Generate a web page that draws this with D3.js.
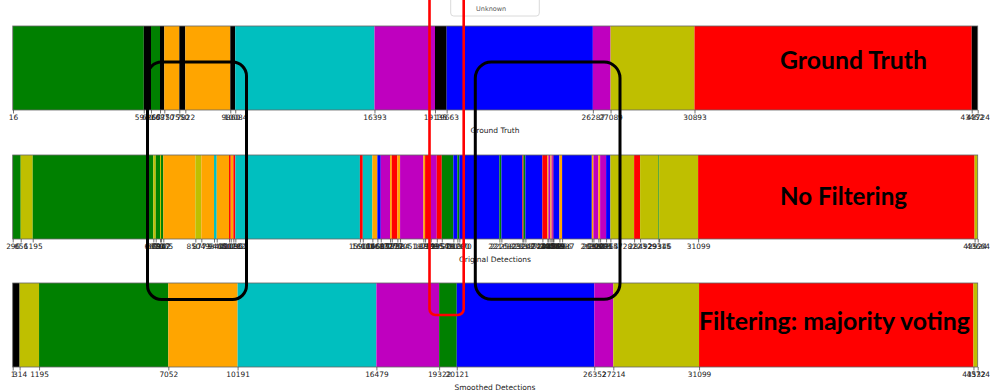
<!DOCTYPE html>
<html>
<head>
<meta charset="utf-8">
<script src="https://cdn.jsdelivr.net/npm/d3@7"></script>
<style>
  body { margin: 0; background: #fff; }
  svg { display: block; }
</style>
</head>
<body>
<div id="chart"></div>
<script>
// class codes: g green, y olive, o orange, c cyan, m magenta, b blue, r red, k unknown
const truthEdges = [16, 5940, 6267, 6675, 6870, 7550, 7822, 9860, 10084, 16393, 19135, 19663, 26287, 27089, 30893, 43452, 43724];
const truthClasses = ['g','k','g','k','o','k','o','k','c','m','k','b','m','y','r','k'];

const origEdges = [296, 656, 1195, 6616, 6724, 6917, 6962, 7065, 8504, 8773, 9344, 9465, 10018, 10095, 10212, 10302,
  15900, 16029, 16460, 16685, 16837, 17255, 17332, 17584, 17705, 18752, 18829, 19085, 19354, 19579, 20100, 20280,
  20370, 22168, 22258, 23202, 23247, 23337, 24101, 24326, 24371, 24461, 24515, 24569, 24596, 24866, 24987, 26322,
  26394, 26618, 26695, 26964, 27157, 28223, 28492, 29315, 29346, 31099, 43524, 43664];
const origClasses = ['g','y','g','y','g','y','g','o','y','o','c','o','r','o','r','c',
  'r','c','o','b','m','o','r','o','m','o','r','m','r','g','b','g',
  'b','g','b','r','g','b','r','o','m','o','m','r','b','o','b','o',
  'm','o','m','b','y','r','y','g','y','r','y'];

const smoothEdges = [1, 314, 1195, 7052, 10191, 16479, 19322, 20121, 26352, 27214, 31099, 43532, 43724];
const smoothClasses = ['k','y','g','o','c','m','g','b','m','y','r','y'];

const classCodes = ['g','y','o','c','m','b','r','k'];
const classColors = ['#008000','#bfbf00','#ffa500','#00bfbf','#bf00bf','#0000ff','#ff0000','#000000'];

const axisTitles = ['Ground Truth', 'Original Detections', 'Smoothed Detections'];
const overlayTitles = ['Ground Truth', 'No Filtering', 'Filtering: majority voting'];
const legendLabels = ['Unknown'];

const width = 990, height = 390;
const color = d3.scaleOrdinal().domain(classCodes).range(classColors);

const svg = d3.select('#chart').append('svg')
  .attr('width', width).attr('height', height);

const panels = [
  { edges: truthEdges, classes: truthClasses, domain: [1, 43724], top: 26 },
  { edges: origEdges, classes: origClasses, domain: [296, 43664], top: 155 },
  { edges: smoothEdges, classes: smoothClasses, domain: [1, 43724], top: 283 }
];
const barH = 84;

panels.forEach((p, i) => {
  const x = d3.scaleLinear().domain(p.domain).range([12.7, 977.7]);
  const segs = p.classes.map((c, j) => ({ c, a: p.edges[j], b: p.edges[j + 1] }));
  const g = svg.append('g');

  g.selectAll('rect.seg')
    .data(segs)
    .enter().append('rect')
    .attr('class', 'seg')
    .attr('x', d => x(d.a))
    .attr('y', p.top)
    .attr('width', d => Math.max(0.8, x(d.b) - x(d.a)))
    .attr('height', barH)
    .attr('fill', d => color(d.c));

  // frame
  g.append('rect')
    .attr('x', 12.7).attr('y', p.top)
    .attr('width', 965).attr('height', barH)
    .attr('fill', 'none').attr('stroke', '#666').attr('stroke-width', 0.8);

  const axis = d3.axisBottom(x)
    .tickValues(p.edges)
    .tickSize(3.5)
    .tickPadding(1.5)
    .tickFormat(d3.format('d'));
  const ax = g.append('g')
    .attr('transform', `translate(0,${p.top + barH})`)
    .call(axis);
  ax.select('.domain').remove();
  ax.selectAll('line').attr('stroke', '#333').attr('stroke-width', 0.7);
  ax.selectAll('text')
    .attr('font-family', 'DejaVu Sans')
    .attr('font-size', 7.4)
    .attr('fill', '#222');

  g.append('text')
    .attr('x', 495).attr('y', p.top + barH + 23)
    .attr('text-anchor', 'middle')
    .attr('font-family', 'DejaVu Sans')
    .attr('font-size', 7.5)
    .attr('fill', '#222')
    .text(axisTitles[i]);
});

// legend cut off at the top
svg.append('rect')
  .attr('x', 450.7).attr('y', -10).attr('width', 88.6).attr('height', 26).attr('rx', 3)
  .attr('fill', '#fff').attr('stroke', '#d0d0d0').attr('stroke-width', 0.8);
svg.append('text')
  .attr('x', 476).attr('y', 11)
  .attr('font-family', 'DejaVu Sans').attr('font-size', 6.5).attr('fill', '#555')
  .text(legendLabels[0]);

// overlay titles
const titlePos = [
  { x: 780, y: 69, w: 147 },
  { x: 780, y: 205, w: 127 },
  { x: 699, y: 330, w: 271 }
];
titlePos.forEach((t, i) => {
  svg.append('text')
    .attr('x', t.x).attr('y', t.y)
    .attr('font-family', 'Lato, "Open Sans", sans-serif')
    .attr('font-weight', 700)
    .attr('font-size', 25)
    .attr('fill', '#000')
    .attr('textLength', t.w)
    .attr('lengthAdjust', 'spacingAndGlyphs')
    .text(overlayTitles[i]);
});

// highlight boxes
svg.append('rect')
  .attr('x', 147.5).attr('y', 62).attr('width', 99).attr('height', 237.5).attr('rx', 14)
  .attr('fill', 'none').attr('stroke', '#000').attr('stroke-width', 3);
svg.append('rect')
  .attr('x', 475.3).attr('y', 62).attr('width', 144.7).attr('height', 237.3).attr('rx', 16)
  .attr('fill', 'none').attr('stroke', '#000').attr('stroke-width', 3);
svg.append('rect')
  .attr('x', 429.5).attr('y', -20).attr('width', 34.2).attr('height', 335).attr('rx', 6)
  .attr('fill', 'none').attr('stroke', '#ff0000').attr('stroke-width', 2.6);
</script>
</body>
</html>
